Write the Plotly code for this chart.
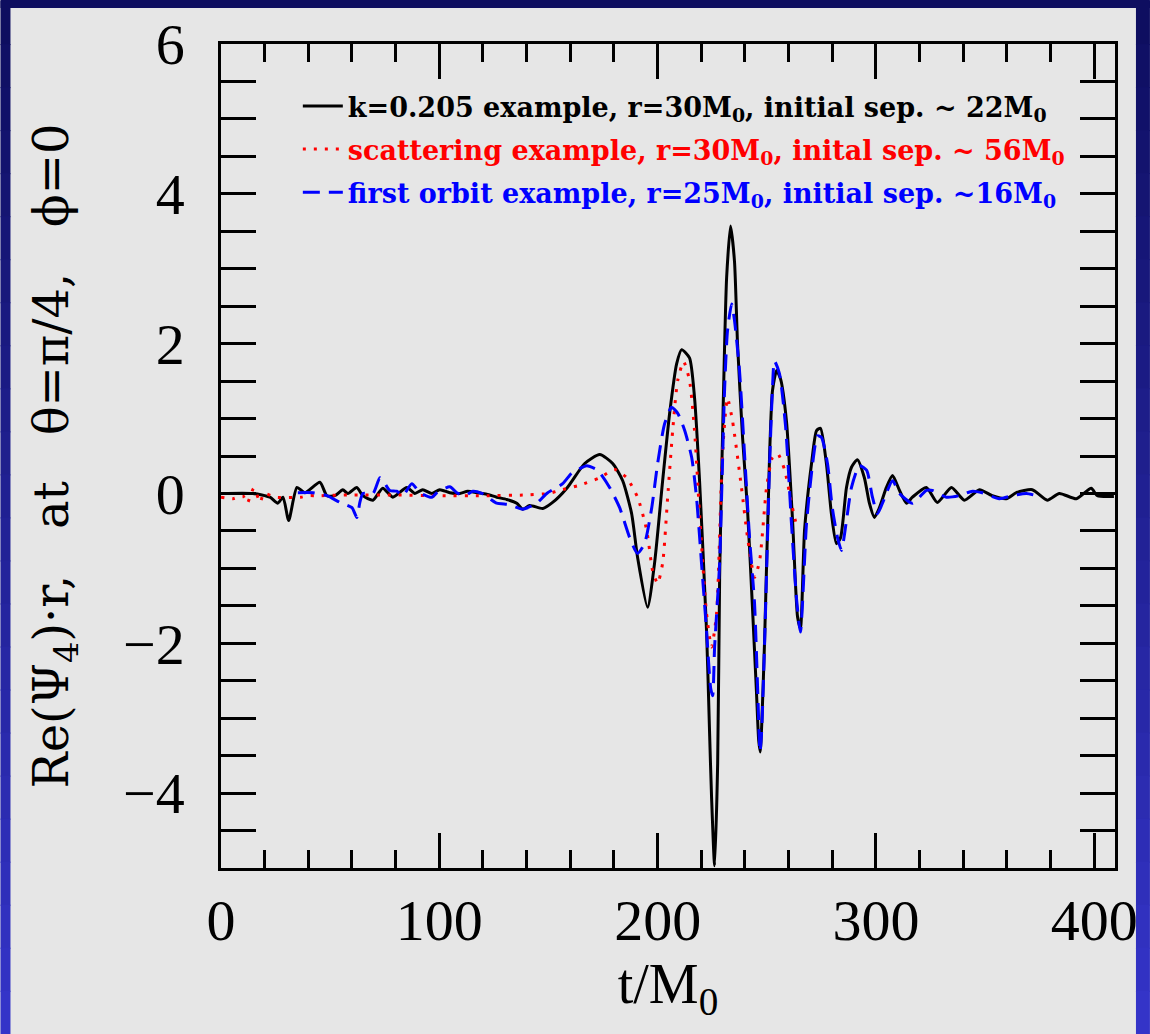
import plotly.graph_objects as go

# ---------------- data ----------------
t_black = [0, 14.6, 22.4, 26, 28.4, 31, 34.8, 38.4, 45.3, 48.5, 52.2, 55.8, 58.1, 62.2, 65, 69.6,
           74.1, 78.7, 85.1, 88.8, 92.4, 96.6, 100.2, 104.8, 109.4, 113, 117.2, 121.7, 126.3, 130.9,
           135.5, 138.2, 141.4, 147.4, 151.9, 158.4, 166.6, 173.5, 179.4, 184, 188.1, 190.8, 195.4,
           198.6, 202.3, 205.5, 208.7, 211, 214.6, 216.9, 219.2, 222.4, 223.8, 224.7, 226.1, 227.5,
           228.4, 229.3, 230.7, 231.6, 233.4, 235.2, 236.6, 238.9, 241.2, 243.5, 245.3, 246.3, 247.0,
           247.8, 249.0, 251.3, 252.6, 254.5, 256.3, 259, 261.8, 264.1, 265.4, 267.3, 270.5, 272.8,
           274.6, 277.3, 279.6, 281.9, 283.8, 286.5, 288.8, 291.5, 294.7, 297, 299.3, 301.6, 304.8,
           307.6, 310.8, 314, 316.7, 323.1, 328.1, 334.6, 340.5, 347.4, 353.3, 359.7, 364.3, 371.6,
           378.5, 384, 391.8, 398.6, 401.4, 409]
v_black = [0, 0, -0.05, -0.13, -0.05, -0.36, 0.08, 0.01, 0.15, -0.03, -0.03, 0.05, 0, 0.08, -0.03, -0.09,
           0.07, -0.05, 0.08, 0, 0.05, 0, 0.05, 0.01, 0, 0.03, 0.01, -0.01, -0.05, -0.08,
           -0.13, -0.21, -0.16, -0.2, -0.12, 0.07, 0.4, 0.52, 0.4, 0.17, -0.27, -0.85, -1.52,
           -0.93, 0.17, 1.07, 1.73, 1.92, 1.81, 1.28, 0.17, -1.83, -3.2, -4.05, -4.97, -3.6,
           -1.12, 0.21, 2.0, 2.88, 3.57, 3.1, 2.0, 0.75, -0.23, -1.56, -2.67, -3.3, -3.45,
           -3.0, -1.96, 0.53, 1.37, 1.64, 1.53, 0.97, -0.36, -1.65, -1.8, -0.49, 0.4, 0.84,
           0.87, 0.4, -0.27, -0.67, -0.59, 0.08, 0.35, 0.45, 0.21, -0.13, -0.32, -0.19, 0.08,
           0.24, 0.04, -0.13, -0.05, 0.08, -0.12, 0.08, -0.09, 0.05, -0.03, -0.07, 0.01, 0.05,
           -0.09, 0, -0.07, 0.07, -0.03, -0.04]

t_red = [0, 5.5, 10, 12, 15, 18, 19.5, 25, 36.6, 39.8, 44.4, 60, 80, 100, 120, 140, 150, 155,
         164.3, 173.5, 180.3, 185.8, 190.8, 195, 197.7, 200, 202.3, 204.6, 206.9, 209.2, 211.9,
         214.6, 216.9, 219.2, 222.4, 224.7, 227, 229.7, 232, 234.3, 238.4, 241.2, 244.4, 246.7,
         249.9, 252.6, 255, 258.2, 261.3, 263.6]
v_red = [-0.05, -0.07, -0.03, -0.13, 0.07, -0.12, 0, -0.05, -0.05, -0.03, -0.03, -0.02, -0.02,
         -0.03, -0.03, -0.02, 0.0, 0.04, 0.11, 0.21, 0.32, 0.21, -0.05, -0.49, -1.03, -1.2, -0.93,
         -0.05, 0.84, 1.51, 1.76, 1.51, 0.84, -0.27, -1.6, -2.05, -1.6, 0.53, 1.27, 0.97, 0.08,
         -0.59, -1.12, -0.9, 0.08, 0.48, 0.53, 0.31, -0.13, -0.43]

t_blue = [35.2, 42.1, 48.5, 54.5, 60, 62.2, 63.6, 65, 69.6, 72.8, 75.1, 77.3, 80.5, 83.3, 87.4, 91.1,
          96.6, 98.9, 104.8, 108, 111.7, 115.3, 119.5, 123.1, 126.3, 132.3, 138.2, 144.6, 149.2,
          156.5, 160.6, 164.3, 167.5, 172.5, 178, 182.6, 187.2, 190.8, 194, 197.3, 200, 203.2,
          206.4, 209.2, 212.4, 215.6, 217.8, 220.1, 222.4, 224.3, 225.2, 226.1, 228.4, 229.7,
          230.7, 232, 233.9, 235.2, 237.5, 239.8, 242.1, 244.4, 245.8, 246.9, 247.6, 249, 251.3,
          252.6, 253.5, 255.8, 258.6, 261.3, 263.6, 265.4, 268.2, 271, 273.2, 275, 277.8, 280,
          282.4, 284.2, 286.5, 288.8, 292.4, 295.7, 298.4, 300.7, 303, 307.6, 310.8, 316.7, 323.1,
          325.9, 332.3, 338.2, 344.2, 348.7, 356.5, 362.5, 368.9, 373.5]
v_blue = [0.01, 0.01, -0.03, -0.12, -0.19, -0.32, -0.12, 0, 0, 0.21, 0.13, 0.04, 0.03, -0.03, 0.13,
          0.01, -0.05, 0.01, 0.09, 0.01, -0.03, 0.03, 0.0, -0.07, -0.13, -0.15, -0.21, -0.13, 0.0,
          0.13, 0.27, 0.33, 0.37, 0.31, 0.08, -0.19, -0.59, -0.8, -0.67, -0.19, 0.4, 0.93,
          1.15, 1.07, 0.84, 0.48, -0.05, -0.93, -1.83, -2.6, -2.7, -2.05, -0.93, 0.4,
          1.41, 2.17, 2.53, 2.31, 1.64, 0.53, -0.59, -1.47, -2.6, -3.45, -3.2, -2.0, 0.4,
          1.4, 1.77, 1.6, 0.9, -0.4, -1.4, -1.85, -0.4, 0.4, 0.77, 0.75, 0.4, -0.19,
          -0.59, -0.76, -0.36, 0.08, 0.37, 0.31, -0.05, -0.27, -0.13, 0.17, 0.0, -0.13, 0.04,
          0.04, -0.05, -0.03, 0.03, 0.01, -0.07, -0.03, 0.0, -0.03]

names = [
    "k=0.205 example, r=30M<sub>0</sub>, initial sep. ~ 22M<sub>0</sub>",
    '<span style="color:#ff0000">scattering example, r=30M<sub>0</sub>, inital sep. ~ 56M<sub>0</sub></span>',
    '<span style="color:#0000ff">first orbit example, r=25M<sub>0</sub>, initial sep. ~16M<sub>0</sub></span>',
]

x_ticks = [0, 100, 200, 300, 400]
y_ticks = [-4, -2, 0, 2, 4, 6]
x_range = [0, 409.5]
y_range = [-5, 6]

# ---------------- figure ----------------
W, H = 1150, 1034
L, R, T, B = 221, 33, 43, 166
pw, ph = W - L - R, H - T - B

def px(x):
    return (x - L) / pw

def py(y):
    return (H - B - y) / ph

fig = go.Figure()
fig.add_trace(go.Scatter(x=t_black, y=v_black, mode="lines", name=names[0], legendgroup="a",
                         line=dict(color="#000000", width=3, shape="spline", smoothing=0.6)))
fig.add_trace(go.Scatter(x=t_red, y=v_red, mode="lines", name=names[1], legendgroup="b",
                         line=dict(color="#ff0000", width=3, dash="3px,8px", shape="spline", smoothing=0.6)))
fig.add_trace(go.Scatter(x=t_blue, y=v_blue, mode="lines", name=names[2], legendgroup="c",
                         line=dict(color="#0000ff", width=3, dash="17px,9px", shape="spline", smoothing=0.6)))
# empty helper trace so the top (tick-only) axis is drawn
fig.add_trace(go.Scatter(x=[None], y=[None], xaxis="x2", yaxis="y", mode="lines",
                         showlegend=False, hoverinfo="skip"))

# frame: navy->blue vertical gradient strips at top, left and right (grey page inside)
shapes = []
n = 24
c0, c1 = (14, 14, 96), (52, 52, 200)
for i in range(n):
    f = i / (n - 1)
    col = "rgb(%d,%d,%d)" % tuple(round(c0[k] + (c1[k] - c0[k]) * f) for k in range(3))
    y0 = i * H / n
    y1 = (i + 1) * H / n + 1
    for xa, xb in ((0, 10), (1138, W + 2)):
        shapes.append(dict(type="rect", xref="paper", yref="paper", layer="below",
                           x0=px(xa), x1=px(xb), y0=py(y1), y1=py(y0),
                           fillcolor=col, line=dict(width=0)))
shapes.append(dict(type="rect", xref="paper", yref="paper", layer="below",
                   x0=px(0), x1=px(W + 2), y0=py(7), y1=py(-2),
                   fillcolor="rgb(14,14,96)", line=dict(width=0)))

tickfont = dict(family="Liberation Serif", size=58, color="black")
tick_common = dict(showgrid=False, zeroline=False, showline=True, linecolor="black", linewidth=2.5,
                   ticks="inside", ticklen=35, tickwidth=2.5, tickcolor="black")
minor_x = dict(dtick=20, tick0=0, ticks="inside", ticklen=18, tickwidth=2.5, tickcolor="black")
minor_y = dict(dtick=0.5, tick0=0, ticks="inside", ticklen=18, tickwidth=2.5, tickcolor="black")
fig.update_layout(
    width=W, height=H,
    margin=dict(l=L, r=R, t=T, b=B, pad=0),
    paper_bgcolor="#e6e6e6",
    plot_bgcolor="#e6e6e6",
    shapes=shapes,
    showlegend=True,
    legend=dict(x=px(298), y=py(81), xanchor="left", yanchor="top",
                bgcolor="rgba(0,0,0,0)", borderwidth=0,
                font=dict(family="DejaVu Serif", size=27, color="black", weight="bold"),
                tracegroupgap=5, itemwidth=40, traceorder="grouped"),
    xaxis=dict(range=x_range, tickvals=x_ticks, ticktext=[str(v) for v in x_ticks],
               mirror="allticks", **tick_common, minor=minor_x,
               tickfont=tickfont, ticklabelstandoff=0,
               title=dict(text="t/M<sub>0</sub>", font=dict(family="Liberation Serif", size=56, color="black"),
                          standoff=6)),
    xaxis2=dict(range=x_range, tickvals=x_ticks, overlaying="x", side="top", anchor="y",
                showticklabels=False, **tick_common, minor=minor_x),
    yaxis=dict(range=y_range, tickvals=y_ticks, ticktext=[("\u2212%d" % -v) if v < 0 else str(v) for v in y_ticks],
               mirror="allticks", **tick_common, minor=minor_y,
               tickfont=tickfont, ticklabelstandoff=22,
               title=dict(text="Re(\u03a8<sub>4</sub>)\u00b7r,\u00a0\u00a0 at\u00a0\u00a0 \u03b8=\u03c0/4,\u00a0\u00a0 \u03d5=0",
                          font=dict(family="DejaVu Serif", size=48, color="black"),
                          standoff=40)),
)

fig.write_html("out.html", config={"displayModeBar": False},
               post_script="document.body.style.margin='0px';document.body.style.overflow='hidden';")
